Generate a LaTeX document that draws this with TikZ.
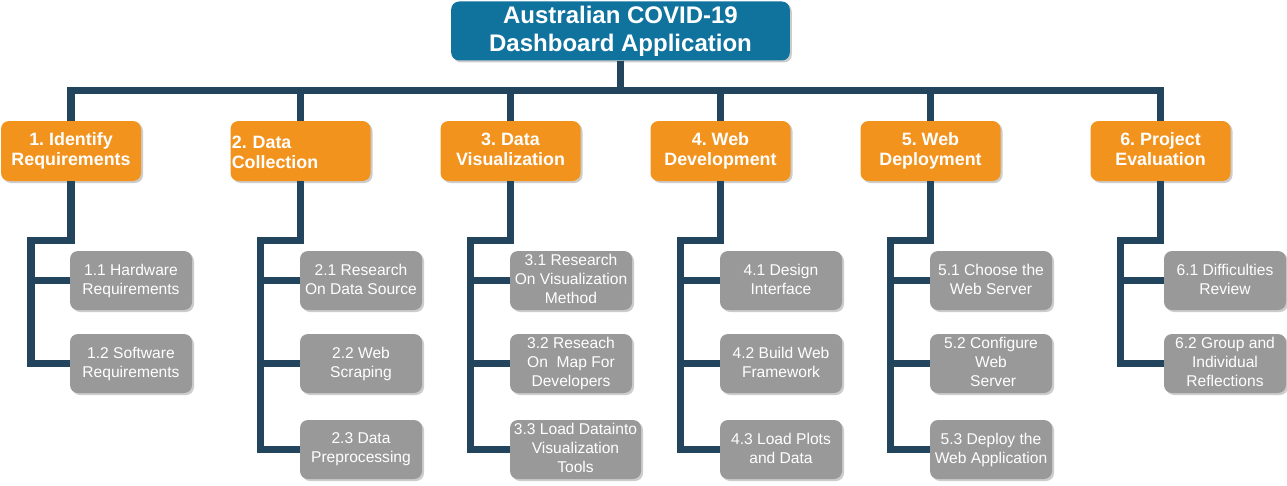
\documentclass[tikz,border=0pt]{standalone}
\usepackage{fontspec}
\setmainfont{Liberation Sans}
\usetikzlibrary{shadows}
\frenchspacing
\definecolor{rootblue}{HTML}{10739E}
\definecolor{phaseorange}{HTML}{F2931E}
\definecolor{taskgrey}{HTML}{999999}
\definecolor{linkblue}{HTML}{23445D}
\newcommand\topstrut{\rule{0pt}{0.85\baselineskip}}
\newcommand\botstrut{\rule[-0.15\baselineskip]{0pt}{0.15\baselineskip}}
\tikzset{
  box/.style={rounded corners=6pt, text=white, align=center, inner sep=1pt,
    execute at begin node=\topstrut, execute at end node=\botstrut,
    drop shadow={shadow xshift=1.5pt, shadow yshift=-1.5pt, fill=black!25, opacity=0.8}},
  root/.style={box, fill=rootblue, minimum width=254pt, minimum height=44.25pt,
    font=\fontsize{18}{21}\selectfont\bfseries},
  phase/.style={box, fill=phaseorange, minimum width=105pt, minimum height=45pt,
    font=\fontsize{13.4}{15}\selectfont\bfseries},
  task/.style={box, fill=taskgrey, minimum width=91.5pt, minimum height=44.25pt,
    font=\fontsize{11.7}{14.25}\selectfont},
  bus/.style={draw=linkblue, line width=5.5pt},
}
\begin{document}
\begin{tikzpicture}[x=0.75pt,y=0.75pt,yscale=-1,xscale=1]
\useasboundingbox (0,0) rectangle (1287,485);
% Root
\node[root] (root) at (620.5,31) {Australian COVID-19\\Dashboard Application};
% Phases
\node[phase] (p1) at (71,151) {1. Identify\\Requirements};
\node[phase, text width=103pt, align=left] (p2) at (300.5,151) {2. Data\\Collection};
\node[phase] (p3) at (510.5,151) {3. Data\\Visualization};
\node[phase] (p4) at (720.5,151) {4. Web\\Development};
\node[phase] (p5) at (930.5,151) {5. Web\\Deployment};
\node[phase] (p6) at (1160.5,151) {6. Project\\Evaluation};
% Tasks 1
\node[task] (t11) at (131,280.5) {1.1 Hardware\\Requirements};
\node[task] (t12) at (131,363.5) {1.2 Software\\Requirements};
% Tasks 2
\node[task] (t21) at (361,280.5) {2.1 Research\\On Data Source};
\node[task] (t22) at (361,363.5) {2.2 Web\\Scraping};
\node[task] (t23) at (361,449.5) {2.3 Data\\Preprocessing};
% Tasks 3
\node[task] (t31) at (571,280.5) {3.1 Research\\On Visualization\\Method};
\node[task] (t32) at (571,363.5) {3.2 Reseach\\On~ Map For\\Developers};
\node[task, minimum width=98.25pt] (t33) at (575.5,449.5) {3.3 Load Datainto\\Visualization\\Tools};
% Tasks 4
\node[task] (t41) at (781,280.5) {4.1 Design\\Interface};
\node[task] (t42) at (781,363.5) {4.2 Build Web\\Framework};
\node[task] (t43) at (781,449.5) {4.3 Load Plots\\and Data};
% Tasks 5
\node[task] (t51) at (991,280.5) {5.1 Choose the\\Web Server};
\node[task] (t52) at (991,363.5) {5.2 Configure\\Web\\\ Server};
\node[task] (t53) at (991,449.5) {5.3 Deploy the\\Web Application};
% Tasks 6
\node[task] (t61) at (1225,280.5) {6.1 Difficulties\\Review};
\node[task] (t62) at (1225,363.5) {6.2 Group and\\Individual\\Reflections};
% Root to phases
\draw[bus] (root.south) -- ++(0,29.5) -| (p1.north);
\draw[bus] (root.south) -- ++(0,29.5) -| (p2.north);
\draw[bus] (root.south) -- ++(0,29.5) -| (p3.north);
\draw[bus] (root.south) -- ++(0,29.5) -| (p4.north);
\draw[bus] (root.south) -- ++(0,29.5) -| (p5.north);
\draw[bus] (root.south) -- ++(0,29.5) -| (p6.north);
% Phases to tasks
\draw[bus] (p1.south) -- ++(0,59) -- ++(-40,0) |- (t11.west);
\draw[bus] (p1.south) -- ++(0,59) -- ++(-40,0) |- (t12.west);
\draw[bus] (p2.south) -- ++(0,59) -- ++(-40,0) |- (t21.west);
\draw[bus] (p2.south) -- ++(0,59) -- ++(-40,0) |- (t22.west);
\draw[bus] (p2.south) -- ++(0,59) -- ++(-40,0) |- (t23.west);
\draw[bus] (p3.south) -- ++(0,59) -- ++(-40,0) |- (t31.west);
\draw[bus] (p3.south) -- ++(0,59) -- ++(-40,0) |- (t32.west);
\draw[bus] (p3.south) -- ++(0,59) -- ++(-40,0) |- (t33.west);
\draw[bus] (p4.south) -- ++(0,59) -- ++(-40,0) |- (t41.west);
\draw[bus] (p4.south) -- ++(0,59) -- ++(-40,0) |- (t42.west);
\draw[bus] (p4.south) -- ++(0,59) -- ++(-40,0) |- (t43.west);
\draw[bus] (p5.south) -- ++(0,59) -- ++(-40,0) |- (t51.west);
\draw[bus] (p5.south) -- ++(0,59) -- ++(-40,0) |- (t52.west);
\draw[bus] (p5.south) -- ++(0,59) -- ++(-40,0) |- (t53.west);
\draw[bus] (p6.south) -- ++(0,59) -- ++(-40,0) |- (t61.west);
\draw[bus] (p6.south) -- ++(0,59) -- ++(-40,0) |- (t62.west);
\end{tikzpicture}
\end{document}
